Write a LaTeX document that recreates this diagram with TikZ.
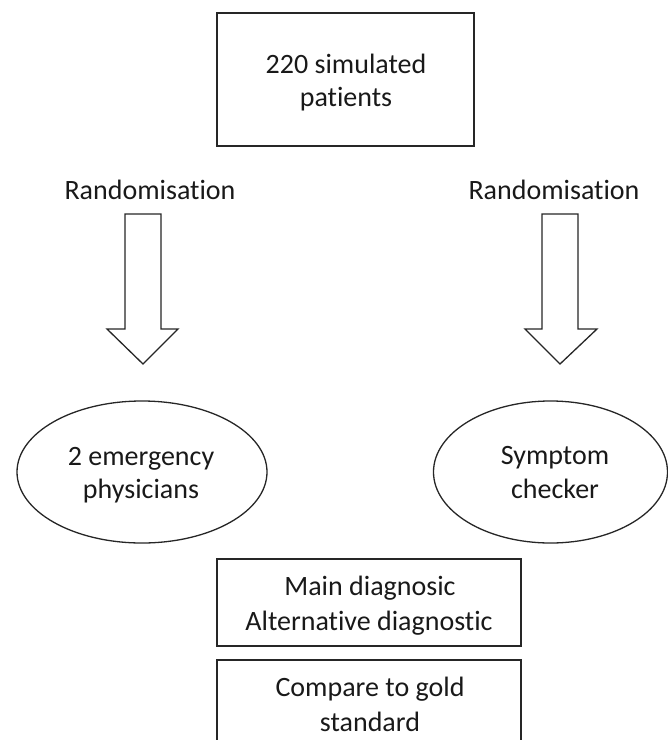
\documentclass[tikz,border=0pt]{standalone}
\usepackage{fontspec}
\setmainfont{Carlito}[Ligatures={NoCommon}]
\usetikzlibrary{shapes.geometric}
\begin{document}
\begin{tikzpicture}[x=1pt,y=-1pt,
  shapeline/.style={draw=black!85,line width=1.3pt},
  boxnode/.style={shapeline,rectangle,inner sep=0pt},
  ellnode/.style={shapeline,ellipse,inner sep=0pt},
  txt/.style={anchor=base,inner sep=0pt,font=\fontsize{28}{33}\selectfont,text=black!90},
  blockarrow/.style={shapeline,fill=white,line join=miter}]
\useasboundingbox (0,0) rectangle (668,740);
% shapes
\node[boxnode,minimum width=257pt,minimum height=133pt] (top) at (345.5,79.5) {};
\node[ellnode,minimum width=250pt,minimum height=142pt] (emerg) at (142,472) {};
\node[ellnode,minimum width=234pt,minimum height=142pt] (sympt) at (550.5,472) {};
\node[boxnode,minimum width=304pt,minimum height=87pt] (diag) at (369,602.5) {};
\node[boxnode,minimum width=304pt,minimum height=96pt] (gold) at (369,708) {};
% block arrows
\draw[blockarrow] (125,214) -- (161,214) -- (161,329) -- (178,329) -- (143,364) -- (107,329) -- (125,329) -- cycle;
\draw[blockarrow] (542,214) -- (578,214) -- (578,329) -- (597,329) -- (560,364) -- (525,329) -- (542,329) -- cycle;
% texts
\node[txt] (topa) at (346,73) {220 simulated};
\node[txt] (topb) at (346,106) {patients};
\node[txt] (randl) at (150,199.5) {Randomisation};
\node[txt] (randr) at (554,199.5) {Randomisation};
\node[txt] (emerga) at (141,465) {2 emergency};
\node[txt] (emergb) at (141,498) {physicians};
\node[txt] (sympta) at (555,464.5) {Symptom};
\node[txt] (symptb) at (555,498) {checker};
\node[txt] (diaga) at (370,595.5) {Main diagnosic};
\node[txt] (diagb) at (369,630.5) {Alternative diagnostic};
\node[txt] (golda) at (370,696.5) {Compare to gold};
\node[txt] (goldb) at (370,731.5) {standard};
\end{tikzpicture}
\end{document}
